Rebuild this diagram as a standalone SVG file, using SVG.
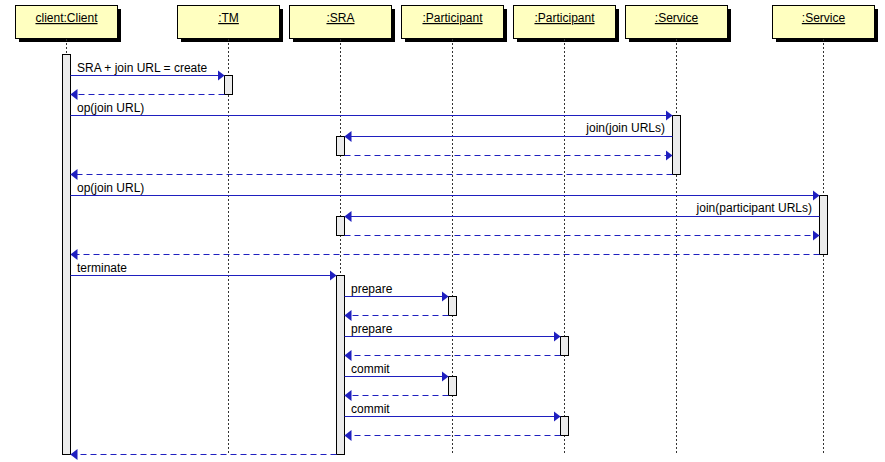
<svg xmlns="http://www.w3.org/2000/svg" width="885" height="462" viewBox="0 0 885 462">
<style>
.box{fill:#ffffc0;stroke:#000;stroke-width:1}
.shadow{fill:#000}
.title{font-family:"Liberation Sans",Arial,sans-serif;font-size:12px;text-anchor:middle;text-decoration:underline;fill:#000}
.life{stroke:#333;stroke-width:1;stroke-dasharray:2,2;fill:none}
.act{fill:#ececec;stroke:#000;stroke-width:1}
.msg{stroke:#1f1fbf;stroke-width:1;fill:none;marker-end:url(#ah)}
.ret{stroke:#1f1fbf;stroke-width:1;fill:none;stroke-dasharray:6,4;marker-end:url(#ah)}
.lbl{font-family:"Liberation Sans",Arial,sans-serif;font-size:12px;fill:#000}
</style>
<defs>
<marker id="ah" markerUnits="userSpaceOnUse" markerWidth="7" markerHeight="11" refX="7" refY="5.5" orient="auto">
<path d="M0,0 L7,5.5 L0,11 z" fill="#1f1fbf"/>
</marker>
</defs>
<rect width="885" height="462" fill="#fff"/>
<g id="client">
<rect class="shadow" x="19" y="9" width="102" height="33"/>
<rect class="box" x="15.5" y="5.5" width="102" height="33"/>
<text class="title" x="66.5" y="22">client:Client</text>
<line class="life" x1="66.5" y1="39" x2="66.5" y2="455"/>
<rect class="act" x="62.5" y="54.5" width="8" height="400"/>
</g>
<g id="tm">
<rect class="shadow" x="181" y="9" width="102" height="33"/>
<rect class="box" x="177.5" y="5.5" width="102" height="33"/>
<text class="title" x="228.5" y="22">:TM</text>
<line class="life" x1="228.5" y1="39" x2="228.5" y2="455"/>
<rect class="act" x="224.5" y="75.5" width="8" height="19"/>
</g>
<g id="sra">
<rect class="shadow" x="293" y="9" width="102" height="33"/>
<rect class="box" x="289.5" y="5.5" width="102" height="33"/>
<text class="title" x="340.5" y="22">:SRA</text>
<line class="life" x1="340.5" y1="39" x2="340.5" y2="455"/>
<rect class="act" x="336.5" y="136.5" width="8" height="19"/>
<rect class="act" x="336.5" y="216.5" width="8" height="19"/>
<rect class="act" x="336.5" y="275.5" width="8" height="179"/>
</g>
<g id="participant1">
<rect class="shadow" x="405" y="9" width="102" height="33"/>
<rect class="box" x="401.5" y="5.5" width="102" height="33"/>
<text class="title" x="452.5" y="22">:Participant</text>
<line class="life" x1="452.5" y1="39" x2="452.5" y2="455"/>
<rect class="act" x="448.5" y="296.5" width="8" height="19"/>
<rect class="act" x="448.5" y="376.5" width="8" height="19"/>
</g>
<g id="participant2">
<rect class="shadow" x="517" y="9" width="102" height="33"/>
<rect class="box" x="513.5" y="5.5" width="102" height="33"/>
<text class="title" x="564.5" y="22">:Participant</text>
<line class="life" x1="564.5" y1="39" x2="564.5" y2="455"/>
<rect class="act" x="560.5" y="336.5" width="8" height="19"/>
<rect class="act" x="560.5" y="416.5" width="8" height="19"/>
</g>
<g id="service1">
<rect class="shadow" x="629" y="9" width="102" height="33"/>
<rect class="box" x="625.5" y="5.5" width="102" height="33"/>
<text class="title" x="676.5" y="22">:Service</text>
<line class="life" x1="676.5" y1="39" x2="676.5" y2="455"/>
<rect class="act" x="672.5" y="115.5" width="8" height="59"/>
</g>
<g id="service2">
<rect class="shadow" x="776" y="9" width="102" height="33"/>
<rect class="box" x="772.5" y="5.5" width="102" height="33"/>
<text class="title" x="823.5" y="22">:Service</text>
<line class="life" x1="823.5" y1="39" x2="823.5" y2="455"/>
<rect class="act" x="819.5" y="195.5" width="8" height="59"/>
</g>
<g id="connectors">
<line class="msg" x1="70.5" y1="75.5" x2="224.5" y2="75.5"/>
<text class="lbl" x="77" y="72">SRA + join URL = create</text>
<line class="ret" x1="224.5" y1="94.5" x2="70.5" y2="94.5"/>
<line class="msg" x1="70.5" y1="115.5" x2="672.5" y2="115.5"/>
<text class="lbl" x="77" y="112">op(join URL)</text>
<line class="msg" x1="672.5" y1="136.5" x2="344.5" y2="136.5"/>
<text class="lbl" x="665" y="132" text-anchor="end">join(join URLs)</text>
<line class="ret" x1="344.5" y1="155.5" x2="672.5" y2="155.5"/>
<line class="ret" x1="672.5" y1="174.5" x2="70.5" y2="174.5"/>
<line class="msg" x1="70.5" y1="195.5" x2="819.5" y2="195.5"/>
<text class="lbl" x="77" y="192">op(join URL)</text>
<line class="msg" x1="819.5" y1="216.5" x2="344.5" y2="216.5"/>
<text class="lbl" x="812" y="212" text-anchor="end">join(participant URLs)</text>
<line class="ret" x1="344.5" y1="235.5" x2="819.5" y2="235.5"/>
<line class="ret" x1="819.5" y1="254.5" x2="70.5" y2="254.5"/>
<line class="msg" x1="70.5" y1="275.5" x2="336.5" y2="275.5"/>
<text class="lbl" x="77" y="272">terminate</text>
<line class="msg" x1="344.5" y1="296.5" x2="448.5" y2="296.5"/>
<text class="lbl" x="351" y="293">prepare</text>
<line class="ret" x1="448.5" y1="315.5" x2="344.5" y2="315.5"/>
<line class="msg" x1="344.5" y1="336.5" x2="560.5" y2="336.5"/>
<text class="lbl" x="351" y="333">prepare</text>
<line class="ret" x1="560.5" y1="355.5" x2="344.5" y2="355.5"/>
<line class="msg" x1="344.5" y1="376.5" x2="448.5" y2="376.5"/>
<text class="lbl" x="351" y="373">commit</text>
<line class="ret" x1="448.5" y1="395.5" x2="344.5" y2="395.5"/>
<line class="msg" x1="344.5" y1="416.5" x2="560.5" y2="416.5"/>
<text class="lbl" x="351" y="413">commit</text>
<line class="ret" x1="560.5" y1="435.5" x2="344.5" y2="435.5"/>
<line class="ret" x1="336.5" y1="454.5" x2="70.5" y2="454.5"/>
</g>
</svg>
